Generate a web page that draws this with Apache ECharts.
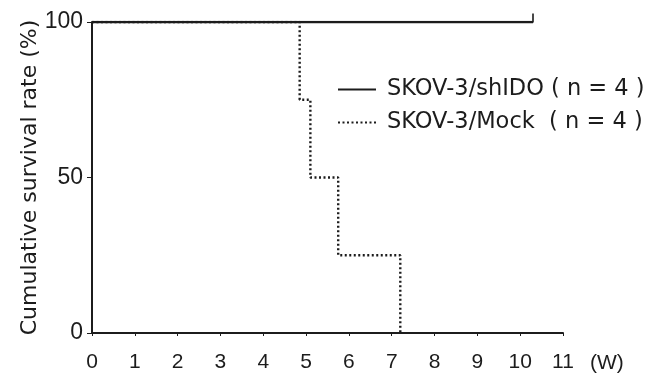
<!DOCTYPE html>
<html>
<head>
<meta charset="utf-8">
<script src="https://cdn.jsdelivr.net/npm/echarts@6/dist/echarts.min.js"></script>
<style>
  html, body { margin: 0; padding: 0; background: #fff; }
  #chart { width: 666px; height: 374px; }
</style>
</head>
<body>
<div id="chart"></div>
<script>
// Kaplan–Meier survival: time in weeks, survival in %
const xTicks = [0, 1, 2, 3, 4, 5, 6, 7, 8, 9, 10, 11];
const yTicks = [0, 50, 100];

const shidoName = 'SKOV-3/shIDO ( n = 4 )';
const shidoTimes = [0, 10.3];
const shidoSurvival = [100, 100];
const shidoCensorTime = [10.3];
const shidoCensorValue = [100];

const mockName = 'SKOV-3/Mock  ( n = 4 )';
const mockTimes = [0, 4.85, 5.1, 5.75, 7.2];
const mockSurvival = [100, 75, 50, 25, 0];

const ink = '#1c1c1c';
const textFont = 'DejaVu Sans';
const numFont = 'Liberation Sans';

const pairs = (xs, ys) => xs.map((x, i) => [x, ys[i]]);

const chart = echarts.init(document.getElementById('chart'));
chart.setOption({
  backgroundColor: '#fff',
  animation: false,
  grid: { left: 92, right: 103, top: 22, bottom: 41 },
  legend: {
    orient: 'vertical',
    left: 332,
    top: 73,
    itemWidth: 38,
    itemHeight: 14,
    itemGap: 10,
    itemStyle: { opacity: 0 },
    textStyle: { fontFamily: textFont, fontSize: 22.5, color: ink, padding: [0, 0, 0, 6] },
    data: [shidoName, mockName]
  },
  xAxis: {
    type: 'value',
    min: 0,
    max: 11,
    interval: 1,
    name: '(W)',
    nameLocation: 'end',
    nameGap: 27,
    nameMoveOverlap: false,
    nameTextStyle: { fontFamily: numFont, fontSize: 21, color: ink, verticalAlign: 'top', padding: [20, 0, 0, 0] },
    axisLine: { lineStyle: { color: ink, width: 2 } },
    axisTick: { inside: false, length: 3, lineStyle: { color: ink } },
    axisLabel: {
      fontFamily: numFont, fontSize: 21, color: ink, margin: 19,
      formatter: v => xTicks.includes(v) ? String(v) : ''
    },
    splitLine: { show: false }
  },
  yAxis: {
    type: 'value',
    min: 0,
    max: 100,
    interval: 50,
    name: 'Cumulative survival rate (%)',
    nameLocation: 'middle',
    nameGap: 51,
    nameMoveOverlap: false,
    nameTextStyle: { fontFamily: textFont, fontSize: 22, color: ink },
    axisLine: { show: true, lineStyle: { color: ink, width: 2 } },
    axisTick: { show: true, length: 5, lineStyle: { color: ink } },
    axisLabel: {
      fontFamily: numFont, fontSize: 23, color: ink, margin: 9,
      formatter: v => yTicks.includes(v) ? String(v) : ''
    },
    splitLine: { show: false }
  },
  series: [
    {
      name: shidoName,
      type: 'line',
      step: 'end',
      symbol: 'none',
      data: pairs(shidoTimes, shidoSurvival),
      lineStyle: { color: ink, width: 2.4, type: 'solid' },
      itemStyle: { color: ink },
      z: 3
    },
    {
      name: 'shIDO censored',
      type: 'scatter',
      symbol: 'rect',
      symbolSize: [2, 9],
      symbolOffset: [0, -4],
      data: pairs(shidoCensorTime, shidoCensorValue),
      itemStyle: { color: ink },
      z: 4
    },
    {
      name: mockName,
      type: 'line',
      step: 'end',
      symbol: 'none',
      data: pairs(mockTimes, mockSurvival),
      lineStyle: { color: ink, width: 2.4, type: [2, 2.5] },
      itemStyle: { color: ink },
      z: 2
    }
  ]
});
</script>
</body>
</html>
